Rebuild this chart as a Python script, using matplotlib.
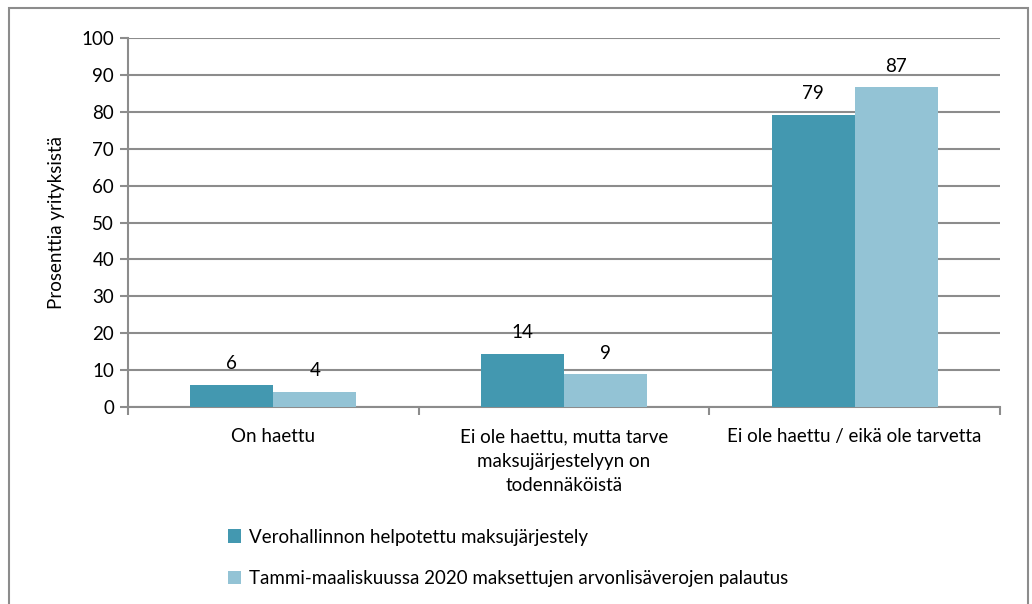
import matplotlib.pyplot as plt
from matplotlib.patches import Rectangle
import numpy as np

plt.rcParams['font.family'] = ['Lato', 'DejaVu Sans']

kategoriat = ["On haettu",
              "Ei ole haettu, mutta tarve\nmaksujärjestelyyn on\ntodennäköistä",
              "Ei ole haettu / eikä ole tarvetta"]
sarjat = ["Verohallinnon helpotettu maksujärjestely",
          "Tammi-maaliskuussa 2020 maksettujen arvonlisäverojen palautus"]
maksujarjestely = [6.0, 14.4, 79.2]
alv_palautus = [4.1, 8.9, 86.7]
varit = ["#4398b0", "#93c3d5"]

fig = plt.figure(figsize=(10.32, 6.04), dpi=100)
ax = fig.add_axes([0.124, 0.326, 0.845, 0.611])

# kuvan reunus
fig.patches.append(Rectangle((0.009, -0.1), 0.987, 1.087, transform=fig.transFigure,
                             fill=False, edgecolor="#8c8c8c", lw=1.5))

x = np.arange(len(kategoriat))
w = 0.286
b1 = ax.bar(x - w/2, maksujarjestely, w, color=varit[0], label=sarjat[0], zorder=3)
b2 = ax.bar(x + w/2, alv_palautus, w, color=varit[1], label=sarjat[1], zorder=3)

for bars in (b1, b2):
    for r in bars:
        ax.annotate(f"{r.get_height():.0f}", (r.get_x() + r.get_width()/2, r.get_height()),
                    xytext=(0, 9), textcoords="offset points", ha="center", va="bottom",
                    fontsize=13.5)

ax.set_xlim(-0.5, 2.5)
ax.set_ylim(0, 100)
ax.set_yticks(range(0, 101, 10))
ax.yaxis.grid(True, color="#8c8c8c", lw=1.5, zorder=0)
ax.set_axisbelow(True)

ax.set_xticks([-0.5, 0.5, 1.5, 2.5])
ax.set_xticklabels([])
ax.set_xticks(x, minor=True)
ax.set_xticklabels(kategoriat, minor=True, fontsize=13.5, linespacing=1.55)
ax.tick_params(axis="x", which="minor", length=0, pad=15)
ax.tick_params(axis="x", which="major", length=6, width=1.5, color="#8c8c8c")
ax.tick_params(axis="y", length=6, width=1.5, color="#8c8c8c", labelsize=13.5, pad=4)

for s in ["top", "right"]:
    ax.spines[s].set_visible(False)
for s in ["left", "bottom"]:
    ax.spines[s].set_color("#8c8c8c")
    ax.spines[s].set_linewidth(1.5)

ax.set_ylabel("Prosenttia yrityksistä", fontsize=13.5, labelpad=12)

fig.legend(loc="upper left", bbox_to_anchor=(0.221, 0.125), frameon=False,
           fontsize=13.5, handlelength=0.7, handleheight=0.7, handletextpad=0.4,
           labelspacing=1.3, borderpad=0, borderaxespad=0)

fig.savefig("out.png", dpi=100)
